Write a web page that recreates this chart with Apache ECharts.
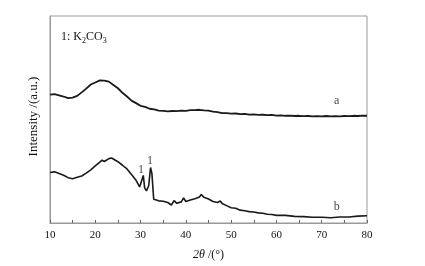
<!DOCTYPE html>
<html>
<head>
<meta charset="utf-8">
<script src="https://cdn.jsdelivr.net/npm/echarts@6/dist/echarts.min.js"></script>
<style>
    html, body { margin: 0; padding: 0; background: #fff; }
    #chart { width: 425px; height: 266px; }
</style>
</head>
<body>
<div id="chart"></div>
<script>
// 曲线 a (2θ, 强度)
var curveA = [
    [10, 62], [11, 62.3], [12, 61.7], [13, 61.1], [14, 60.3], [15, 60.6], [16, 61.4], [17, 63.1],
    [18, 64.9], [19, 66.9], [20, 67.9], [21, 68.9], [22, 68.8], [23, 68.3], [24, 66.7], [25, 65.1],
    [26, 62.9], [27, 61.1], [28, 59.1], [29, 57.9], [30, 56.6], [31, 56.1], [32, 55.2], [33, 54.9],
    [34, 54.3], [35, 54.2], [36, 53.9], [37, 54.1], [38, 54], [39, 54.3], [40, 54.2], [41, 54.5],
    [42, 54.5], [43, 54.7], [44, 54.4], [45, 54.3], [46, 53.8], [47, 53.6], [48, 53.1], [49, 53.1],
    [50, 52.8], [51, 52.9], [52, 52.6], [53, 52.7], [54, 52.4], [55, 52.5], [56, 52.2], [57, 52.3],
    [58, 52.1], [59, 52.2], [60, 51.9], [61, 52], [62, 51.8], [63, 51.9], [64, 51.7], [65, 51.8],
    [66, 51.6], [67, 51.7], [68, 51.5], [69, 51.6], [70, 51.5], [71, 51.7], [72, 51.5], [73, 51.6],
    [74, 51.5], [75, 51.7], [76, 51.6], [77, 51.8], [78, 51.7], [79, 51.9], [80, 51.8]
];
// 曲线 b
var curveB = [
    [10, 24.4], [11, 24.7], [12, 23.9], [13, 23.1], [14, 21.9], [15, 21.4], [16, 22.1], [17, 22.7],
    [18, 24.1], [19, 25.7], [20, 27.6], [21, 29.4], [21.5, 30.4], [22, 29.7], [23, 31.1], [23.6, 31.4],
    [24, 30.6], [25, 29.6], [26, 27.9], [27, 26.1], [28, 23.4], [29, 20.6], [29.8, 17.4], [30.2, 18.1],
    [30.6, 23], [30.9, 17], [31.3, 15.5], [31.8, 18], [32.2, 26.8], [32.5, 24], [32.9, 11.5], [33.5, 11.1],
    [34, 10.7], [35, 10.5], [36, 9.9], [36.8, 8.7], [37.4, 10.8], [38, 9.5], [39, 10.2], [39.5, 12.1],
    [40, 10.4], [41, 11.1], [42, 11.7], [43, 12.6], [43.4, 13.8], [44, 12.4], [45, 11.6], [46, 10.4],
    [47, 9.9], [47.6, 10.6], [48, 9.4], [49, 8.4], [50, 7.4], [51, 7.1], [52, 6.2], [53, 5.9],
    [54, 5.5], [55, 5.3], [56, 4.9], [57, 4.7], [58, 4.2], [59, 4.1], [60, 3.7], [62, 3.7],
    [64, 3.2], [66, 3.1], [68, 2.8], [70, 2.8], [72, 2.5], [74, 2.9], [76, 2.9], [78, 3.3], [80, 3.5]
];
// 标注
var notes = [
    { value: [73.3, 59], text: 'a' },
    { value: [73.3, 8], text: 'b' },
    { value: [30.1, 25.5], text: '1' },
    { value: [32.1, 30], text: '1' }
];
var xTicks = [10, 20, 30, 40, 50, 60, 70, 80];

var chart = echarts.init(document.getElementById('chart'));
var font = 'Liberation Serif';
var option = {
    animation: false,
    grid: {
        left: 50,
        right: 58,
        top: 16,
        bottom: 42,
        show: true,
        borderColor: '#9a9a9a',
        borderWidth: 1
    },
    title: {
        text: '1: K{s|2}CO{s|3}',
        left: 56,
        top: 24,
        textStyle: {
            fontFamily: font,
            fontWeight: 'normal',
            fontSize: 12,
            color: '#111',
            rich: {
                s: { fontFamily: font, fontSize: 8, color: '#111', padding: [8, 0, 0, 0] }
            }
        }
    },
    xAxis: {
        type: 'value',
        min: 10,
        max: 80,
        interval: 5,
        name: '{i|2θ} /(°)',
        nameLocation: 'middle',
        nameGap: 26,
        nameTextStyle: {
            fontFamily: font,
            fontSize: 12,
            color: '#111',
            rich: {
                i: { fontFamily: font, fontStyle: 'italic', fontSize: 12, color: '#111' }
            }
        },
        axisLine: { lineStyle: { color: '#9a9a9a' } },
        axisTick: { inside: true, length: 3, lineStyle: { color: '#666' } },
        axisLabel: {
            fontFamily: font,
            fontSize: 11,
            color: '#111',
            margin: 7,
            formatter: function (v) {
                return xTicks.indexOf(v) >= 0 ? String(v) : '';
            }
        },
        splitLine: { show: false }
    },
    yAxis: {
        type: 'value',
        min: 0,
        max: 100,
        name: 'Intensity /(a.u.)',
        nameLocation: 'middle',
        nameGap: 10,
        nameTextStyle: { fontFamily: font, fontSize: 13, color: '#111', padding: [0, 0, 0, 6] },
        axisLine: { show: true, lineStyle: { color: '#9a9a9a' } },
        axisTick: { show: false },
        axisLabel: { show: false },
        splitLine: { show: false }
    },
    series: [
        {
            name: 'a',
            type: 'line',
            data: curveA,
            showSymbol: false,
            lineStyle: { color: '#1a1a1a', width: 1.8 }
        },
        {
            name: 'b',
            type: 'line',
            data: curveB,
            showSymbol: false,
            lineStyle: { color: '#1a1a1a', width: 1.6 }
        },
        {
            name: 'notes',
            type: 'scatter',
            symbolSize: 0,
            data: notes.map(function (n) {
                return { value: n.value, label: { formatter: n.text } };
            }),
            label: {
                show: true,
                position: 'inside',
                fontFamily: font,
                fontSize: 12,
                color: '#111'
            }
        }
    ]
};
chart.setOption(option);
</script>
</body>
</html>
